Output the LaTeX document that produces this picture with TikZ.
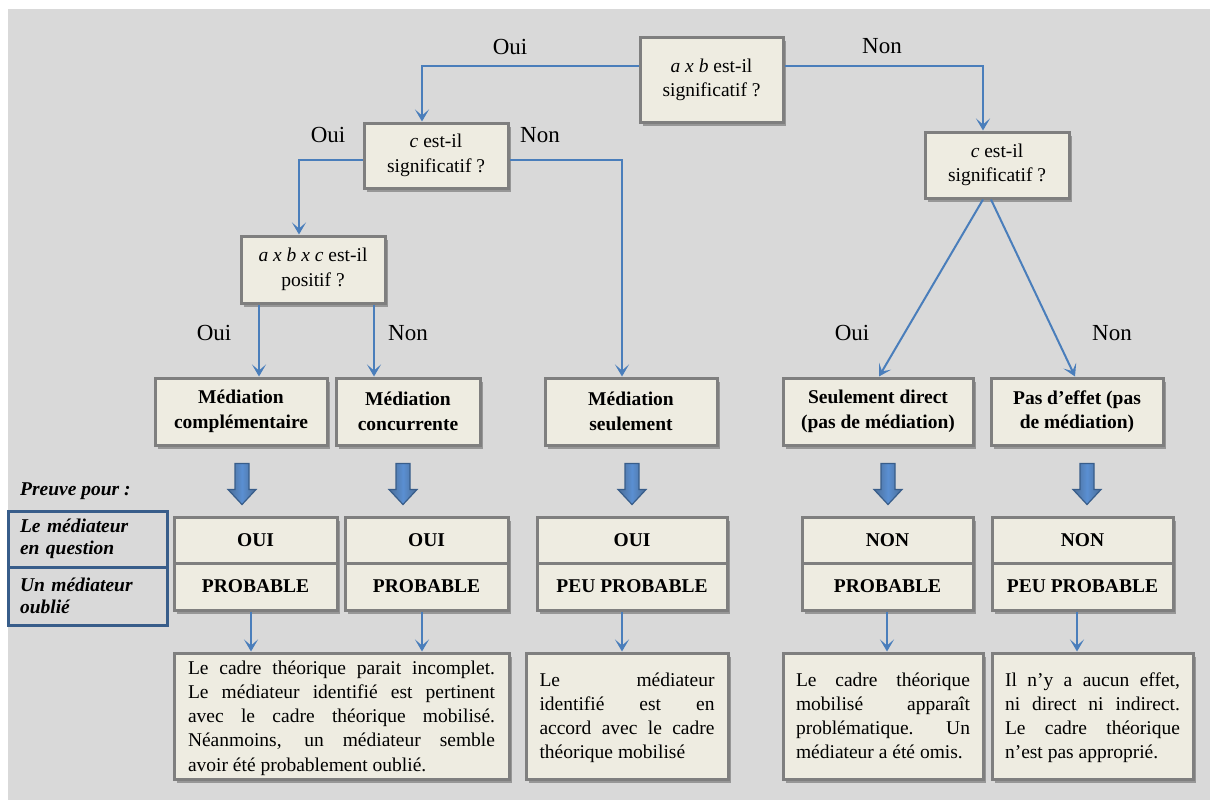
\documentclass[tikz,border=0pt]{standalone}
\usepackage{fontspec}
\setmainfont{Liberation Serif}
\usetikzlibrary{shadows,arrows.meta,calc}
\definecolor{bgc}{HTML}{D9D9D9}
\definecolor{boxfill}{HTML}{EEECE1}
\definecolor{boxline}{HTML}{7F7F7F}
\definecolor{conn}{HTML}{4A7EBB}
\definecolor{barfill}{HTML}{5A8FD2}
\definecolor{barline}{HTML}{385D8A}
\newcommand\bodyfont{\fontsize{19.5}{24.5}\selectfont}
\newcommand\lblfont{\fontsize{23}{27}\selectfont}
\newcommand\jl[2]{{\spaceskip=0pt\xspaceskip=0pt\makebox[#1][s]{#2}}}
\newcommand\blockarr[2]{\draw[barrowst] ($(#1.south)+(#2-7,17)$) -- ++(14,0) -- ++(0,26) -- ++(7,0) -- ++(-14,15) -- ++(-14,-15) -- ++(7,0) -- cycle;}
\tikzset{
  boxbase/.style={draw=boxline, line width=3pt, fill=boxfill,
    drop shadow={shadow xshift=2.5pt, shadow yshift=-3.5pt, opacity=0.3, fill=black},
    inner sep=0pt},
  box/.style={boxbase, align=center, font=\bodyfont},
  rbox/.style={box, font=\bodyfont\bfseries},
  tbox/.style={boxbase, minimum height=126pt, font=\fontsize{19.5}{24.3}\selectfont},
  lcell/.style={draw=barline, line width=3pt, inner xsep=12pt, inner ysep=0pt,
    text width=135pt, align=left, minimum width=159pt,
    font=\fontsize{19.5}{22}\selectfont\bfseries\itshape},
  lbl/.style={font=\lblfont, inner sep=0pt},
  link/.style={draw=conn, line width=2pt, -{Stealth[length=12pt,width=14pt,inset=6pt]}},
  thinlink/.style={link, line width=1.6pt},
  barrowst/.style={draw=barline, line width=1.2pt, left color=barline!90!white, right color=barline!90!white, middle color=barfill},
}
\begin{document}
\begin{tikzpicture}[x=1pt,y=-1pt]
\useasboundingbox (0,0) rectangle (1210,800);
\fill[bgc] (8,9) rectangle (1210,800);

% question boxes
\node[box, minimum width=143pt, minimum height=84pt] (A) at (711.5,80) {\textit{a x b} est-il\\significatif ?};
\node[box, minimum width=144pt, minimum height=65pt] (C1) at (436,155.5) {\textit{c} est-il\\significatif ?};
\node[box, minimum width=144pt, minimum height=66pt] (C2) at (997,165) {\textit{c} est-il\\significatif ?};
\node[box, minimum width=144pt, minimum height=67pt] (D) at (313,269.5) {\textit{a x b x c} est-il\\positif ?};

% outcome boxes
\node[rbox, minimum width=172pt, minimum height=67pt] (MC) at (241,411.5) {Médiation\\complémentaire};
\node[rbox, minimum width=144pt, minimum height=67pt] (MCo) at (408,411.5) {Médiation\\concurrente};
\node[rbox, minimum width=172pt, minimum height=67pt] (MS) at (631,411.5) {Médiation\\seulement};
\node[rbox, minimum width=190pt, minimum height=67pt] (SD) at (878,411.5) {Seulement direct\\(pas de médiation)};
\node[rbox, minimum width=172pt, minimum height=67pt] (PE) at (1077,411.5) {Pas d’effet (pas\\de médiation)};

% labels
\node[lbl] (l1) at (510,47) {Oui};
\node[lbl] (l2) at (882,46) {Non};
\node[lbl] (l3) at (328,135) {Oui};
\node[lbl] (l4) at (540,135) {Non};
\node[lbl] (l5) at (214,333) {Oui};
\node[lbl] (l6) at (408,333) {Non};
\node[lbl] (l7) at (852,333) {Oui};
\node[lbl] (l8) at (1112,333) {Non};

% connectors
\draw[link] ([yshift=14pt]A.west) -| ([xshift=-14pt]C1.north);
\draw[link] ([yshift=14pt]A.east) -| ([xshift=-14pt]C2.north);
\draw[link] ([yshift=-4.5pt]C1.west) -| ([xshift=-14pt]D.north);
\draw[link] ([yshift=-4.5pt]C1.east) -| ([xshift=-9pt]MS.north);
\draw[link] ([xshift=-54pt]D.south) -- ([xshift=-54pt]D.south |- MC.north);
\draw[link] ([xshift=61pt]D.south) -- ([xshift=61pt]D.south |- MCo.north);
\draw[link] ([xshift=-14pt]C2.south) -- ([xshift=1pt]SD.north);
\draw[link] ([xshift=-6pt]C2.south) -- ([xshift=-2pt]PE.north);

% block arrows
\blockarr{MC}{1}
\blockarr{MCo}{-5}
\blockarr{MS}{1}
\blockarr{SD}{10}
\blockarr{PE}{10}

% evidence table
\node[anchor=west, inner sep=0pt, font=\bodyfont\bfseries\itshape] (pp) at (20,491) {Preuve pour :};
\node[lcell, minimum height=56pt] (lt1) at (87.5,539) {Le médiateur\\en question};
\node[lcell, minimum height=58pt] (lt2) at (87.5,596) {Un médiateur\\oublié};

\node[rbox, minimum width=163pt, minimum height=46pt] (b1t) at (255.5,540) {OUI};
\node[rbox, minimum width=163pt, minimum height=47pt] (b1b) at (255.5,586.5) {PROBABLE};
\node[rbox, minimum width=163pt, minimum height=46pt] (b2t) at (426.5,540) {OUI};
\node[rbox, minimum width=163pt, minimum height=47pt] (b2b) at (426.5,586.5) {PROBABLE};
\node[rbox, minimum width=190pt, minimum height=46pt] (b3t) at (632,540) {OUI};
\node[rbox, minimum width=190pt, minimum height=47pt] (b3b) at (632,586.5) {PEU PROBABLE};
\node[rbox, minimum width=171pt, minimum height=46pt] (b4t) at (887.5,540) {NON};
\node[rbox, minimum width=171pt, minimum height=47pt] (b4b) at (887.5,586.5) {PROBABLE};
\node[rbox, minimum width=181pt, minimum height=46pt] (b5t) at (1082.5,540) {NON};
\node[rbox, minimum width=181pt, minimum height=47pt] (b5b) at (1082.5,586.5) {PEU PROBABLE};

% text boxes
\node[tbox, minimum width=335pt] (t1) at (341.5,716) {\parbox[c][126pt][t]{307pt}{%
\rule{0pt}{21pt}\jl{307pt}{Le cadre théorique parait incomplet.}\par
\jl{307pt}{Le médiateur identifié est pertinent}\par
\jl{307pt}{avec le cadre théorique mobilisé.}\par
\jl{307pt}{Néanmoins, un médiateur semble}\par
avoir été probablement oublié.}};
\node[tbox, minimum width=202pt] (t2) at (627,716) {\parbox[c][126pt][t]{175pt}{%
\rule{0pt}{33pt}\jl{175pt}{Le médiateur}\par
\jl{175pt}{identifié est en}\par
\jl{175pt}{accord avec le cadre}\par
théorique mobilisé}};
\node[tbox, minimum width=200pt] (t4) at (883,716) {\parbox[c][126pt][t]{174pt}{%
\rule{0pt}{33pt}\jl{174pt}{Le cadre théorique}\par
\jl{174pt}{mobilisé apparaît}\par
\jl{174pt}{problématique. Un}\par
médiateur a été omis.}};
\node[tbox, minimum width=201pt] (t5) at (1092.5,716) {\parbox[c][126pt][t]{175pt}{%
\rule{0pt}{33pt}\jl{175pt}{Il n’y a aucun effet,}\par
\jl{175pt}{ni direct ni indirect.}\par
\jl{175pt}{Le cadre théorique}\par
n’est pas approprié.}};

% thin arrows
\draw[thinlink] ([xshift=-4.5pt]b1b.south) -- ([xshift=-4.5pt]b1b.south |- t1.north);
\draw[thinlink] ([xshift=-4.5pt]b2b.south) -- ([xshift=-4.5pt]b2b.south |- t1.north);
\draw[thinlink] ([xshift=-10pt]b3b.south) -- ([xshift=-10pt]b3b.south |- t2.north);
\draw[thinlink] ([xshift=-0.5pt]b4b.south) -- ([xshift=-0.5pt]b4b.south |- t4.north);
\draw[thinlink] ([xshift=-5.5pt]b5b.south) -- ([xshift=-5.5pt]b5b.south |- t5.north);
\end{tikzpicture}
\end{document}
